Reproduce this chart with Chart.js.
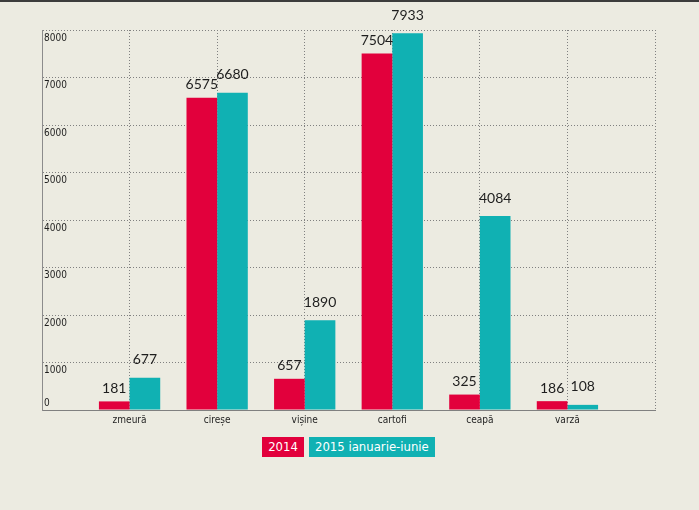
<!DOCTYPE html>
<html>
<head>
<meta charset="utf-8">
<script src="https://cdn.jsdelivr.net/npm/chart.js@4/dist/chart.umd.min.js"></script>
<style>
  html, body { margin: 0; padding: 0; background: #ecebe1; }
  #wrap { position: relative; width: 699px; height: 510px; overflow: hidden; }
  #topline { position: absolute; left: 0; top: 0; width: 699px; height: 2px; background: #3c3c3c; }
  #legend {
    position: absolute; left: 42px; width: 613px; top: 437px;
    display: flex; justify-content: center; gap: 5px;
    font-family: "Liberation Sans Narrow", "DejaVu Sans Condensed", sans-serif;
    font-size: 13px; color: #fff;
  }
  #legend span { display: block; height: 20px; line-height: 20px; padding: 0 6px; }
</style>
</head>
<body>
<div id="wrap">
  <canvas id="chart" width="699" height="510"></canvas>
  <div id="topline"></div>
  <div id="legend"></div>
</div>
<script>
const categories = ["zmeură", "cireșe", "vișine", "cartofi", "ceapă", "varză"];
const values2014 = [181, 6575, 657, 7504, 325, 186];
const values2015 = [677, 6680, 1890, 7933, 4084, 108];
const seriesNames = ["2014", "2015 ianuarie-iunie"];
const seriesColors = ["#e2003c", "#10b1b3"];
const yTicks = [0, 1000, 2000, 3000, 4000, 5000, 6000, 7000, 8000];

// empty slot on each side so the categories sit on the gridlines
const pad = arr => [null, ...arr, null];

// value labels, axis tick text drawn by hand for placement inside the plot
const labelPlugin = {
  id: "labels",
  afterDatasetsDraw(chart) {
    const ctx = chart.ctx;
    const offsets = [13, 18];
    ctx.save();
    ctx.font = "14px Lato, sans-serif";
    ctx.fillStyle = "#1e1e1e";
    ctx.textAlign = "center";
    ctx.textBaseline = "middle";
    chart.data.datasets.forEach((ds, i) => {
      chart.getDatasetMeta(i).data.forEach((bar, j) => {
        if (ds.data[j] == null) return;
        ctx.fillText(ds.data[j], bar.x, bar.y - offsets[i]);
      });
    });

    const area = chart.chartArea;
    const y = chart.scales.y;
    const x = chart.scales.x;
    ctx.font = '10px "Liberation Sans Narrow", "DejaVu Sans Condensed", sans-serif';
    ctx.textAlign = "left";
    yTicks.forEach(v => {
      const py = y.getPixelForValue(v);
      ctx.fillText(v, area.left + 2, Math.min(py + 8, area.bottom - 7));
    });
    ctx.textAlign = "center";
    categories.forEach((c, i) => {
      ctx.fillText(c, x.getPixelForValue(i + 1), area.bottom + 10);
    });
    ctx.restore();
  }
};

const gridColor = "#808080";

const chart = new Chart(document.getElementById("chart"), {
  type: "bar",
  data: {
    labels: ["", ...categories, ""],
    datasets: [
      { label: seriesNames[0], data: pad(values2014), backgroundColor: seriesColors[0] },
      { label: seriesNames[1], data: pad(values2015), backgroundColor: seriesColors[1] }
    ]
  },
  options: {
    responsive: false,
    animation: false,
    layout: { padding: { left: 42, right: 44, top: 30, bottom: 100 } },
    datasets: { bar: { categoryPercentage: 0.7, barPercentage: 1.0 } },
    plugins: { legend: { display: false }, tooltip: { enabled: false } },
    scales: {
      x: {
        offset: false,
        grid: { offset: false, color: gridColor, drawTicks: false },
        border: { color: gridColor, width: 1, dash: [1, 2] },
        ticks: { display: false }
      },
      y: {
        min: 0,
        max: 8000,
        afterBuildTicks: scale => { scale.ticks = yTicks.map(v => ({ value: v })); },
        grid: { color: gridColor, drawTicks: false },
        border: { color: "#8c8c8c", dash: [1, 2] },
        ticks: { display: false }
      }
    }
  },
  plugins: [labelPlugin]
});

// legend as coloured tags under the plot
const legend = document.getElementById("legend");
chart.data.datasets.forEach(ds => {
  const tag = document.createElement("span");
  tag.textContent = ds.label;
  tag.style.background = ds.backgroundColor;
  legend.appendChild(tag);
});
</script>
</body>
</html>
